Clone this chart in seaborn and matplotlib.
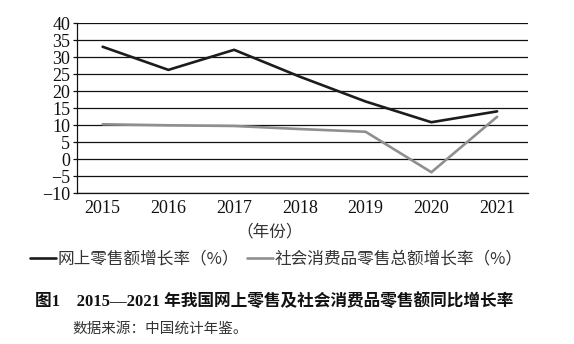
import matplotlib
matplotlib.use("Agg")
import matplotlib.pyplot as plt
import seaborn as sns
import pandas as pd

years = [2015, 2016, 2017, 2018, 2019, 2020, 2021]
online_growth = [33.1, 26.3, 32.2, 24.3, 17.0, 10.9, 14.1]
retail_growth = [10.3, 10.0, 9.8, 8.9, 8.1, -3.8, 12.5]
series_names = ["网上零售额增长率（%）", "社会消费品零售总额增长率（%）"]
y_ticks = [40, 35, 30, 25, 20, 15, 10, 5, 0, -5, -10]
x_label = "（年份）"
title = "图1　2015—2021 年我国网上零售及社会消费品零售额同比增长率"
source = "数据来源：中国统计年鉴。"

sns.set_theme(style="white")
plt.rcParams['font.family'] = ['Liberation Serif', 'Noto Sans CJK SC', 'DejaVu Sans']
plt.rcParams['axes.unicode_minus'] = True

df = pd.DataFrame({
    "year_idx": list(range(len(years))) * 2,
    "value": online_growth + retail_growth,
    "series": [series_names[0]] * len(years) + [series_names[1]] * len(years),
})

fig = plt.figure(figsize=(5.74, 3.44), dpi=100)
W, H = 574, 344
ax = fig.add_axes([77 / W, 1 - 193.3 / H, (528 - 77) / W, (193.3 - 23.3) / H])

for yv in y_ticks:
    ax.axhline(yv, color="#111111", lw=0.9, zorder=1)

sns.lineplot(data=df, x="year_idx", y="value", hue="series",
             palette={series_names[0]: "#1c1c1c", series_names[1]: "#8f8f8f"},
             linewidth=1.9, ax=ax, legend=False, zorder=3)

ax.set_xlim(-0.39, 6.47)
ax.set_ylim(-10, 40)
ax.set_yticks(y_ticks)
ax.set_yticklabels([("−" + str(-v)) if v < 0 else str(v) for v in y_ticks])
ax.set_xticks(range(len(years)))
ax.set_xticklabels([str(y) for y in years])
ax.tick_params(axis="y", labelsize=13, length=3, width=0.9, color="#111111", pad=2, left=True)
ax.tick_params(axis="x", labelsize=13, length=0, pad=5)
for lbl in ax.get_yticklabels() + ax.get_xticklabels():
    lbl.set_color("#111111")
ax.set_xlabel("")
ax.set_ylabel("")
for s in ["top", "right"]:
    ax.spines[s].set_visible(False)
ax.spines["left"].set_color("#111111")
ax.spines["left"].set_linewidth(0.9)
ax.spines["bottom"].set_color("#111111")
ax.spines["bottom"].set_linewidth(0.9)

cjk = ['Noto Sans CJK SC', 'DejaVu Sans']
fig.text(270 / W, 1 - 232 / H, x_label, ha="center", va="center", fontsize=12,
         family=cjk, color="#333333")

handles = ax.get_lines()[-2:]
leg = fig.legend(handles, series_names, loc="center left",
                 bbox_to_anchor=(30 / W, 1 - 259 / H), ncol=2, frameon=False,
                 handlelength=1.55, handletextpad=0.1, columnspacing=0.5,
                 prop={"family": cjk, "size": 12}, borderaxespad=0, borderpad=0)
for t in leg.get_texts():
    t.set_color("#333333")

fig.text(35 / W, 1 - 302 / H, title, ha="left", va="center", fontsize=12,
         fontweight="bold", family=['Liberation Serif', 'Noto Sans CJK SC'], color="#111111")
fig.text(72 / W, 1 - 329 / H, source, ha="left", va="center", fontsize=10.5,
         family=cjk, color="#333333")

fig.savefig("out.png", dpi=100)
